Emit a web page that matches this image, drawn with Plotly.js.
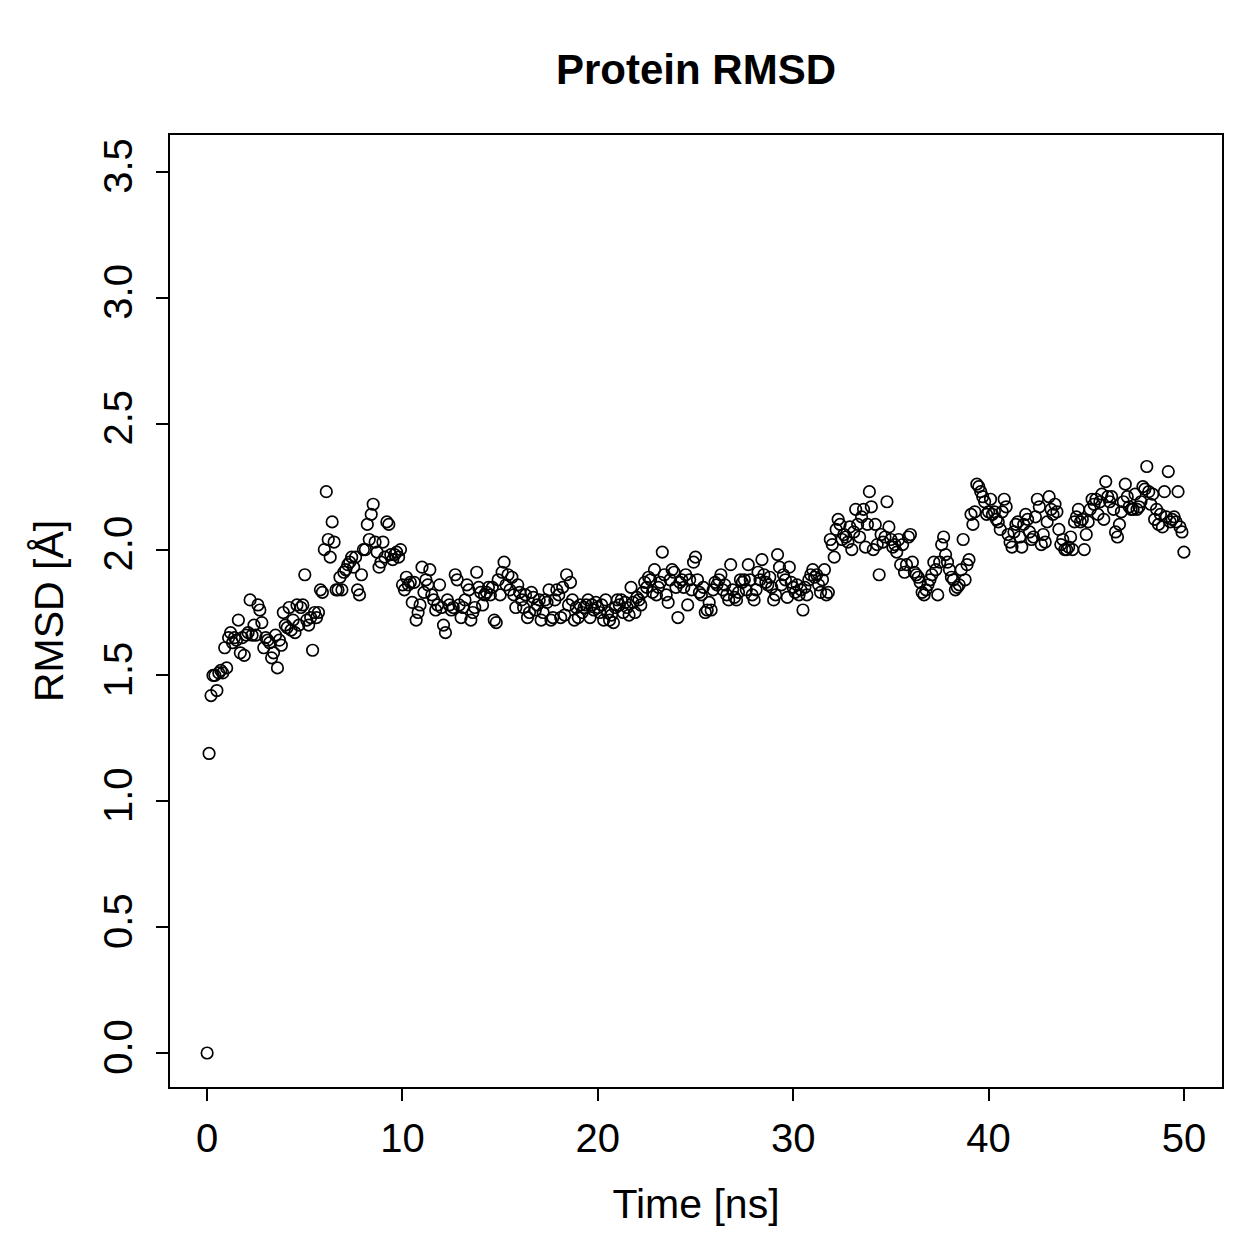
<!DOCTYPE html>
<html>
<head>
<meta charset="utf-8">
<script src="https://cdn.plot.ly/plotly-3.0.1.min.js"></script>
<style>html,body{margin:0;padding:0;background:#fff;}#chart{width:1259px;height:1259px;}</style>
</head>
<body>
<div id="chart"></div>
<script>
// RMSD values (Å), one sample every 0.1 ns from 0 to 50 ns
const timeStepNs = 0.1;
const rmsd = [
  0.00, 1.19, 1.42, 1.50, 1.50, 1.44, 1.51, 1.52, 1.51, 1.61, 1.53,
  1.65, 1.67, 1.63, 1.65, 1.64, 1.72, 1.59, 1.65, 1.58, 1.66,
  1.67, 1.80, 1.66, 1.70, 1.66, 1.78, 1.76, 1.71, 1.61, 1.65,
  1.64, 1.63, 1.57, 1.59, 1.66, 1.53, 1.64, 1.62, 1.75, 1.70,
  1.69, 1.77, 1.68, 1.72, 1.67, 1.78, 1.70, 1.77, 1.78, 1.90,
  1.72, 1.70, 1.73, 1.60, 1.75, 1.73, 1.75, 1.84, 1.83, 2.00,
  2.23, 2.04, 1.97, 2.11, 2.03, 1.84, 1.84, 1.89, 1.84, 1.91,
  1.92, 1.94, 1.95, 1.97, 1.93, 1.97, 1.84, 1.82, 1.90, 2.00,
  2.00, 2.10, 2.04, 2.14, 2.18, 2.03, 1.99, 1.93, 1.95, 2.03,
  1.97, 2.11, 2.10, 1.98, 1.96, 1.98, 1.99, 1.97, 2.00, 1.86,
  1.84, 1.89, 1.86, 1.87, 1.79, 1.87, 1.72, 1.75, 1.78, 1.93,
  1.83, 1.88, 1.86, 1.92, 1.82, 1.80, 1.76, 1.78, 1.86, 1.77,
  1.70, 1.67, 1.80, 1.78, 1.76, 1.77, 1.90, 1.88, 1.78, 1.73,
  1.77, 1.80, 1.86, 1.84, 1.72, 1.75, 1.77, 1.91, 1.85, 1.83,
  1.78, 1.82, 1.83, 1.85, 1.82, 1.85, 1.72, 1.71, 1.88, 1.82,
  1.91, 1.95, 1.86, 1.90, 1.84, 1.89, 1.82, 1.77, 1.86, 1.83,
  1.80, 1.77, 1.82, 1.73, 1.75, 1.83, 1.81, 1.76, 1.78, 1.80,
  1.72, 1.75, 1.80, 1.79, 1.84, 1.72, 1.73, 1.80, 1.84, 1.82,
  1.73, 1.85, 1.74, 1.90, 1.78, 1.87, 1.80, 1.72, 1.77, 1.73,
  1.78, 1.75, 1.77, 1.78, 1.80, 1.73, 1.78, 1.76, 1.79, 1.77,
  1.75, 1.78, 1.72, 1.80, 1.75, 1.72, 1.74, 1.71, 1.77, 1.80,
  1.78, 1.80, 1.75, 1.79, 1.77, 1.74, 1.85, 1.79, 1.75, 1.81,
  1.80, 1.78, 1.83, 1.87, 1.85, 1.89, 1.88, 1.83, 1.92, 1.82,
  1.85, 1.87, 1.99, 1.90, 1.82, 1.79, 1.88, 1.92, 1.91, 1.85,
  1.73, 1.87, 1.88, 1.85, 1.90, 1.78, 1.88, 1.84, 1.95, 1.97,
  1.88, 1.83, 1.82, 1.85, 1.75, 1.76, 1.79, 1.76, 1.84, 1.87,
  1.86, 1.88, 1.90, 1.84, 1.86, 1.82, 1.80, 1.94, 1.84, 1.81,
  1.80, 1.83, 1.88, 1.87, 1.88, 1.84, 1.94, 1.88, 1.82, 1.80,
  1.84, 1.91, 1.88, 1.96, 1.90, 1.87, 1.86, 1.89, 1.85, 1.80,
  1.82, 1.98, 1.93, 1.86, 1.90, 1.88, 1.81, 1.93, 1.87, 1.85,
  1.83, 1.86, 1.82, 1.84, 1.76, 1.85, 1.82, 1.88, 1.90, 1.92,
  1.89, 1.90, 1.86, 1.83, 1.88, 1.92, 1.82, 1.83, 2.04, 2.02,
  1.97, 2.08, 2.12, 2.10, 2.04, 2.06, 2.05, 2.03, 2.09, 2.00,
  2.07, 2.16, 2.10, 2.05, 2.13, 2.16, 2.01, 2.10, 2.23, 2.17,
  2.00, 2.10, 2.02, 1.90, 2.06, 2.03, 2.05, 2.19, 2.09, 2.04,
  2.01, 2.02, 1.99, 2.04, 1.94, 2.02, 1.91, 1.94, 2.05, 2.06,
  1.95, 1.91, 1.90, 1.89, 1.87, 1.83, 1.82, 1.84, 1.86, 1.88,
  1.90, 1.95, 1.92, 1.82, 1.95, 2.02, 2.05, 1.98, 1.95, 1.92,
  1.89, 1.88, 1.84, 1.85, 1.86, 1.92, 2.04, 1.88, 1.94, 1.96,
  2.14, 2.10, 2.15, 2.26, 2.25, 2.23, 2.21, 2.19, 2.14, 2.15,
  2.20, 2.14, 2.15, 2.12, 2.11, 2.08, 2.15, 2.20, 2.17, 2.06,
  2.03, 2.01, 2.07, 2.10, 2.11, 2.05, 2.01, 2.10, 2.14, 2.12,
  2.07, 2.04, 2.05, 2.13, 2.20, 2.17, 2.02, 2.06, 2.03, 2.11,
  2.21, 2.16, 2.14, 2.18, 2.15, 2.08, 2.02, 2.04, 2.00, 2.00,
  2.01, 2.05, 2.00, 2.11, 2.13, 2.16, 2.11, 2.12, 2.00, 2.06,
  2.11, 2.16, 2.20, 2.18, 2.20, 2.14, 2.19, 2.22, 2.12, 2.27,
  2.21, 2.19, 2.21, 2.16, 2.07, 2.05, 2.10, 2.15, 2.19, 2.26,
  2.21, 2.17, 2.16, 2.16, 2.22, 2.16, 2.17, 2.19, 2.25, 2.24,
  2.33, 2.23, 2.18, 2.22, 2.12, 2.16, 2.10, 2.14, 2.09, 2.23,
  2.13, 2.31, 2.11, 2.12, 2.13, 2.11, 2.23, 2.09, 2.07, 1.99
];
const xTicks = [0, 10, 20, 30, 40, 50];
const yTicks = [0, 0.5, 1.0, 1.5, 2.0, 2.5, 3.0, 3.5];
const titleText = 'Protein RMSD';
const xLabel = 'Time [ns]';
const yLabel = 'RMSD [Å]';

const timeNs = rmsd.map((_, i) => Math.round(i * timeStepNs * 10) / 10);

const font = 'Liberation Sans, Arial, Helvetica, sans-serif';

const trace = {
  x: timeNs,
  y: rmsd,
  type: 'scatter',
  mode: 'markers',
  marker: {symbol: 'circle-open', size: 11.5, color: '#000', line: {width: 1.7, color: '#000'}},
  hoverinfo: 'x+y'
};

const layout = {
  width: 1259,
  height: 1259,
  paper_bgcolor: '#fff',
  plot_bgcolor: '#fff',
  showlegend: false,
  margin: {l: 170, r: 37, t: 135, b: 172},
  font: {family: font, size: 40, color: '#000'},
  title: {
    text: '<b>' + titleText + '</b>',
    font: {family: font, size: 42, color: '#000'},
    x: 0.5, xref: 'paper', xanchor: 'center',
    y: 1 - 69 / 1259, yref: 'container', yanchor: 'middle'
  },
  xaxis: {
    range: [-1.9, 51.95],
    tickmode: 'array', tickvals: xTicks, ticktext: xTicks.map(String),
    ticks: 'outside', ticklen: 12, tickwidth: 2, tickcolor: '#000',
    ticklabelstandoff: 3,
    showline: true, mirror: true, linewidth: 2, linecolor: '#000',
    showgrid: false, zeroline: false,
    tickfont: {family: font, size: 40, color: '#000'},
    title: {text: xLabel, font: {family: font, size: 41, color: '#000'}, standoff: 30}
  },
  yaxis: {
    range: [-0.135, 3.647],
    tickmode: 'array', tickvals: yTicks, ticktext: yTicks.map(v => v.toFixed(1)),
    tickangle: -90,
    ticks: 'outside', ticklen: 12, tickwidth: 2, tickcolor: '#000',
    ticklabelstandoff: 8,
    showline: true, mirror: true, linewidth: 2, linecolor: '#000',
    showgrid: false, zeroline: false,
    tickfont: {family: font, size: 40, color: '#000'},
    title: {text: yLabel, font: {family: font, size: 41, color: '#000'}, standoff: 20}
  }
};

Plotly.newPlot('chart', [trace], layout, {displayModeBar: false, staticPlot: true});
</script>
</body>
</html>
